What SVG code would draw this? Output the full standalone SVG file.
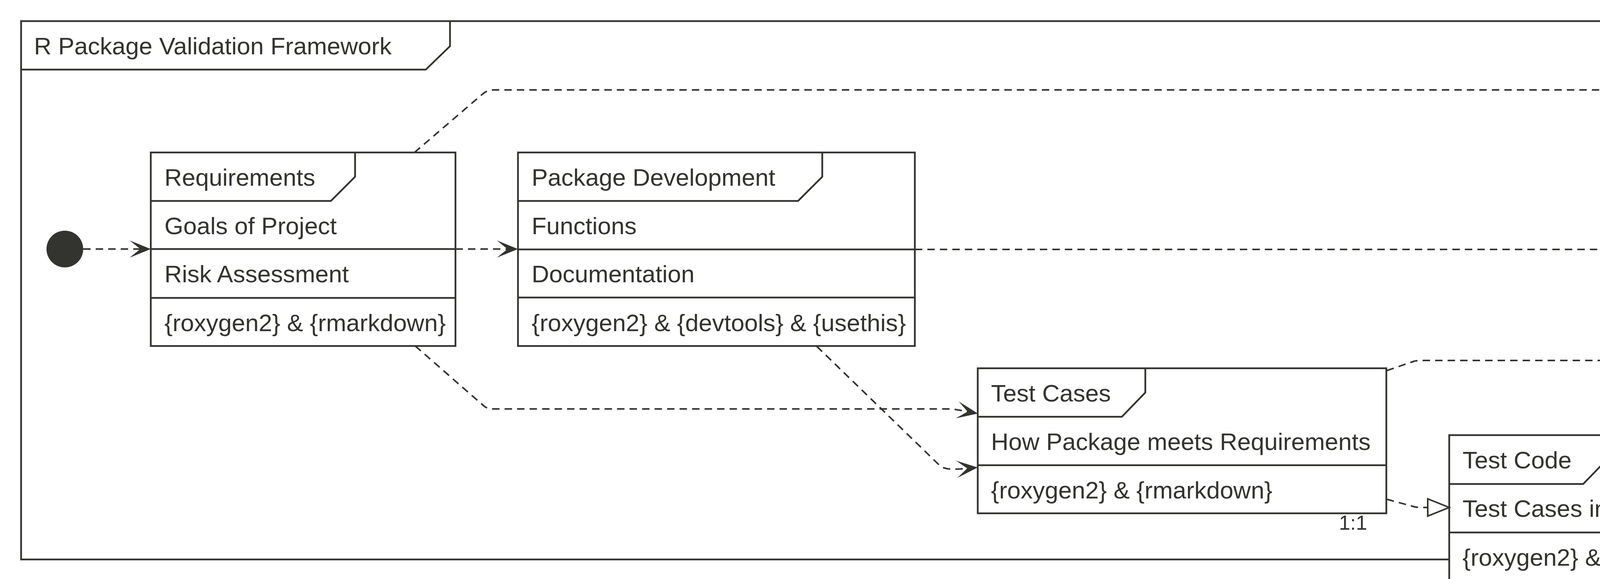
<svg xmlns="http://www.w3.org/2000/svg" width="6444" height="1481" viewBox="0 0 6444 1481">
<defs>
<style>
text{font-family:"Liberation Sans",Arial,Helvetica,sans-serif;font-size:62px;fill:#333330}
.box{fill:#ffffff;stroke:#333330;stroke-width:4.5}
.ln{fill:none;stroke:#333330;stroke-width:4.5}
.edge{fill:none;stroke:#333330;stroke-width:4;stroke-dasharray:19 13}
.small{font-size:52px}
</style>
<marker id="arr" viewBox="-30 -25 60 50" markerWidth="60" markerHeight="50" refX="0" refY="0" orient="auto" markerUnits="userSpaceOnUse" overflow="visible">
<path d="M27,0 L-27,-22 L0,0 L-27,22 Z" fill="#333330"/>
</marker>
<marker id="tri" viewBox="-4 -26 64 52" markerWidth="64" markerHeight="52" refX="0" refY="0" orient="auto" markerUnits="userSpaceOnUse" overflow="visible">
<path d="M55,0 L0,-22 L0,22 Z" fill="#ffffff" stroke="#333330" stroke-width="4" stroke-linejoin="miter"/>
</marker>
</defs>
<rect x="0" y="0" width="6444" height="1481" fill="#ffffff"/>
<g id="frame">
<rect class="ln" x="54" y="54" width="6340" height="1377"/>
<path class="ln" d="M54,178 H1090 L1152,118 V54"/>
<text x="87" y="139">R Package Validation Framework</text>
</g>
<g id="start">
<circle cx="166" cy="637" r="47" fill="#333330"/>
</g>
<g id="requirements">
<rect class="box" x="386" y="390" width="780" height="495"/>
<path class="ln" d="M386,514 H847 L909,452 V390"/>
<line class="ln" x1="386" y1="637" x2="1166" y2="637"/>
<line class="ln" x1="386" y1="762" x2="1166" y2="762"/>
<text x="421" y="475">Requirements</text>
<text x="421" y="599">Goals of Project</text>
<text x="421" y="722">Risk Assessment</text>
<text x="421" y="847">{roxygen2} &amp; {rmarkdown}</text>
</g>
<g id="package-development">
<rect class="box" x="1326" y="390" width="1016" height="495"/>
<path class="ln" d="M1326,514 H2043 L2105,452 V390"/>
<line class="ln" x1="1326" y1="638" x2="2342" y2="638"/>
<line class="ln" x1="1326" y1="761" x2="2342" y2="761"/>
<text x="1361" y="475">Package Development</text>
<text x="1361" y="599">Functions</text>
<text x="1361" y="722">Documentation</text>
<text x="1361" y="847">{roxygen2} &amp; {devtools} &amp; {usethis}</text>
</g>
<g id="test-cases">
<rect class="box" x="2503" y="942" width="1046" height="371"/>
<path class="ln" d="M2503,1066 H2872 L2932,1004 V942"/>
<line class="ln" x1="2503" y1="1190" x2="3549" y2="1190"/>
<text x="2537" y="1027">Test Cases</text>
<text x="2537" y="1151">How Package meets Requirements</text>
<text x="2537" y="1275">{roxygen2} &amp; {rmarkdown}</text>
</g>
<g id="test-code">
<rect class="box" x="3710" y="1113" width="1095" height="380"/>
<path class="ln" d="M3710,1238 H4053 L4113,1176 V1113"/>
<line class="ln" x1="3710" y1="1362" x2="4805" y2="1362"/>
<text x="3744" y="1198">Test Code</text>
<text x="3744" y="1322">Test Cases implemented as R scripts</text>
<text x="3744" y="1447">{roxygen2} &amp; {testthat}</text>
</g>
<g id="validation-report">
<rect class="box" x="4966" y="414" width="1096" height="611"/>
<path class="ln" d="M4966,537 H5523 L5584,476 V414"/>
<line class="ln" x1="4966" y1="902" x2="6062" y2="902"/>
<text x="5000" y="499">Validation Report</text>
<text x="5000" y="622">Validation Environment</text>
<text x="5000" y="682">Authorship &amp; Roles</text>
<text x="5000" y="742">Requirements</text>
<text x="5000" y="801">Test Cases</text>
<text x="5000" y="861">Test Code Results</text>
<text x="5000" y="985">{rmarkdown} &amp; {testthat} &amp; {roxygen2}</text>
</g>
<g id="end">
<circle cx="6281" cy="717" r="40" fill="#ffffff" stroke="#333330" stroke-width="4.5"/>
<circle cx="6281" cy="717" r="23" fill="#333330"/>
</g>
<g id="connectors">
<path class="edge" d="M213,637 H359" marker-end="url(#arr)"/>
<path class="edge" d="M1166,637 H1299" marker-end="url(#arr)"/>
<path class="edge" d="M2342,638 H4885 C4900,638 4915,641.5 4938,644.5" marker-end="url(#arr)"/>
<path class="edge" d="M1061,390 L1236,240 Q1248,230 1262,230 H4870 Q4885,230 4897,240 L5099,396" marker-end="url(#arr)"/>
<path class="edge" d="M1063,885 L1236,1036 Q1246,1046 1260,1046 H2425 C2445,1046 2460,1050 2477,1053" marker-end="url(#arr)"/>
<path class="edge" d="M2091,886 L2405,1190 C2418,1202 2440,1201 2476,1198" marker-end="url(#arr)"/>
<path class="edge" d="M3550,948 L3620,924 Q3627,922 3640,922 H4885 C4900,922 4915,914 4938,904" marker-end="url(#arr)"/>
<path class="edge" d="M3550,1277 L3620,1296 Q3627,1298 3635,1298 H3655" marker-end="url(#tri)"/>
<path class="edge" d="M4806,1298 H4868 Q4886,1298 4898,1284 L5140,1062" marker-end="url(#tri)"/>
<path class="edge" d="M6062,717 H6196" marker-end="url(#arr)"/>
<text class="small" x="3500" y="1355" text-anchor="end">1:1</text>
<text x="4842" y="1378">Exectute Code</text>
</g>
</svg>
